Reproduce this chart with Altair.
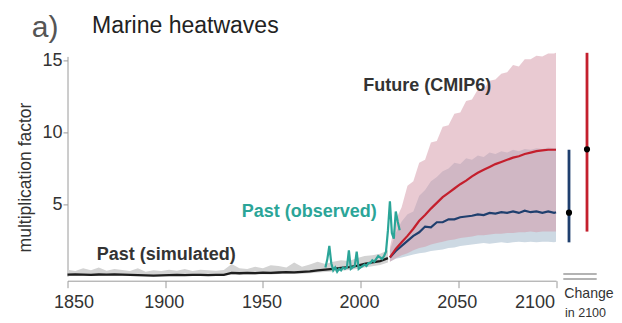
import altair as alt
import pandas as pd

# ---------------- data ----------------
past_years = [1850, 1854, 1858, 1862, 1866, 1870, 1874, 1878, 1882, 1886, 1890,
              1894, 1898, 1902, 1906, 1910, 1914, 1918, 1922, 1926, 1930, 1934,
              1938, 1942, 1946, 1950, 1954, 1958, 1962, 1966, 1970, 1974, 1978,
              1982, 1986, 1990, 1994, 1998, 2002, 2006, 2010, 2014]
sim_median = [0.10, 0.12, 0.10, 0.09, 0.11, 0.10, 0.12, 0.10, 0.09, 0.07, 0.05,
              0.04, 0.05, 0.07, 0.08, 0.07, 0.09, 0.08, 0.07, 0.08, 0.08, 0.22,
              0.20, 0.23, 0.21, 0.24, 0.22, 0.25, 0.27, 0.26, 0.30, 0.33, 0.40,
              0.45, 0.50, 0.58, 0.62, 0.72, 0.85, 0.95, 1.05, 1.25]
sim_low = [0.03, 0.04, 0.03, 0.02, 0.03, 0.03, 0.04, 0.03, 0.02, 0.01, 0.00,
           0.00, 0.00, 0.01, 0.02, 0.01, 0.02, 0.02, 0.01, 0.02, 0.02, 0.12,
           0.10, 0.12, 0.10, 0.13, 0.12, 0.14, 0.15, 0.14, 0.17, 0.20, 0.25,
           0.28, 0.32, 0.38, 0.42, 0.50, 0.60, 0.68, 0.78, 0.95]
sim_high = [0.45, 0.35, 0.55, 0.40, 0.60, 0.38, 0.50, 0.42, 0.35, 0.55, 0.30,
            0.40, 0.35, 0.45, 0.38, 0.50, 0.36, 0.45, 0.40, 0.38, 0.42, 0.85,
            0.55, 0.50, 0.65, 0.55, 0.75, 0.70, 0.60, 0.95, 0.65, 0.80, 1.00,
            0.85, 1.00, 1.10, 1.05, 1.25, 1.40, 1.45, 1.55, 1.80]

obs_years = [1982, 1983, 1984, 1985, 1986, 1987, 1988, 1989, 1990, 1991, 1992,
             1993, 1994, 1995, 1996, 1997, 1998, 1999, 2000, 2001, 2002, 2003,
             2004, 2005, 2006, 2007, 2008, 2009, 2010, 2011, 2012, 2013, 2014,
             2015, 2016, 2017, 2018, 2019, 2020]
obs_values = [0.6, 1.2, 2.1, 0.9, 0.4, 0.6, 0.3, 0.5, 0.4, 0.6, 0.5,
              0.6, 1.8, 0.5, 0.6, 0.7, 1.7, 0.5, 0.6, 0.7, 0.8, 0.7,
              0.9, 0.9, 1.1, 1.0, 1.2, 1.4, 1.3, 1.2, 1.4, 1.7, 3.2,
              5.2, 3.0, 2.6, 4.5, 3.8, 3.2]

fut_years = [2015, 2018, 2021, 2024, 2027, 2030, 2033, 2036, 2039, 2042, 2045,
             2048, 2051, 2054, 2057, 2060, 2063, 2066, 2069, 2072, 2075, 2078,
             2081, 2084, 2087, 2090, 2093, 2096, 2099, 2100]
ssp585_median = [1.3, 1.9, 2.35, 2.8, 3.3, 3.85, 4.25, 4.7, 5.1, 5.5, 5.8,
                 6.1, 6.4, 6.65, 6.95, 7.2, 7.4, 7.6, 7.8, 7.95, 8.1, 8.25,
                 8.35, 8.5, 8.6, 8.7, 8.75, 8.8, 8.8, 8.8]
ssp585_low = [1.0, 1.25, 1.45, 1.6, 1.8, 1.95, 2.05, 2.2, 2.3, 2.4, 2.5,
              2.55, 2.65, 2.7, 2.75, 2.85, 2.85, 2.9, 2.95, 2.95, 3.0, 3.0,
              3.05, 3.05, 3.1, 3.05, 3.1, 3.1, 3.1, 3.1]
ssp585_high = [2.0, 3.9, 4.8, 6.3, 6.6, 7.9, 8.1, 9.3, 9.4, 10.4, 10.5,
               11.3, 11.4, 12.2, 12.3, 13.0, 13.0, 13.6, 13.7, 14.1, 14.2, 14.7,
               14.6, 15.1, 15.1, 15.35, 15.3, 15.5, 15.5, 15.55]
ssp126_median = [1.3, 1.75, 2.1, 2.45, 2.8, 3.05, 3.45, 3.4, 3.75, 3.75, 3.95,
                 3.95, 4.1, 4.15, 4.2, 4.3, 4.25, 4.4, 4.35, 4.45, 4.4, 4.5,
                 4.4, 4.55, 4.45, 4.5, 4.4, 4.5, 4.4, 4.45]
ssp126_low = [1.0, 1.2, 1.3, 1.4, 1.5, 1.6, 1.65, 1.75, 1.8, 1.85, 1.95,
              2.0, 2.1, 2.15, 2.2, 2.25, 2.3, 2.25, 2.3, 2.35, 2.3, 2.35,
              2.4, 2.35, 2.4, 2.35, 2.4, 2.4, 2.35, 2.4]
ssp126_high = [1.8, 3.0, 3.8, 4.3, 4.5, 5.6, 6.0, 6.6, 6.9, 7.3, 7.5,
               7.9, 7.8, 8.2, 8.1, 8.4, 8.3, 8.6, 8.5, 8.7, 8.6, 8.8,
               8.7, 8.85, 8.8, 8.9, 8.85, 8.95, 8.9, 8.9]

change_scenarios = ["SSP1-2.6", "SSP5-8.5"]
change_low = [2.35, 3.1]
change_high = [8.8, 15.55]
change_median = [4.42, 8.83]

x_ticks = [1850, 1900, 1950, 2000, 2050, 2100]
y_ticks = [5, 10, 15]

# ---------------- tables ----------------
past = pd.DataFrame({"year": past_years, "median": sim_median,
                     "low": sim_low, "high": sim_high})
obs = pd.DataFrame({"year": obs_years, "value": obs_values})
fut = pd.DataFrame({"year": fut_years,
                    "r_med": ssp585_median, "r_lo": ssp585_low, "r_hi": ssp585_high,
                    "b_med": ssp126_median, "b_lo": ssp126_low, "b_hi": ssp126_high})
chg = pd.DataFrame({"scen": change_scenarios, "low": change_low,
                    "high": change_high, "mid": change_median})

# ---------------- styling ----------------
W, H = 488.5, 219.7
RED = "#c41f2d"
BLUE = "#1f3f6e"
TEAL = "#2ba598"
AXIS_GREY = "#9a9a9a"
FONT = "Liberation Sans"

xs = alt.Scale(domain=[1850, 2100], nice=False, zero=False)
ys = alt.Scale(domain=[0, 15.3], nice=False, zero=False)

x_axis = alt.Axis(
    values=x_ticks, format="d", title=None, grid=False,
    domainColor=AXIS_GREY, domainWidth=1, tickColor=AXIS_GREY, tickSize=7,
    labelFont=FONT, labelFontSize=18, labelColor="#333333", labelPadding=6,
    offset=4.6, labelFlush=False, labelOverlap=False, labelBound=False,
    labelAlign={"condition": {"test": "datum.value == 2100", "value": "right"},
                "value": "center"},
    labelOffset={"condition": {"test": "datum.value == 1850", "value": 6},
                 "value": -1.5},
)
y_axis = alt.Axis(
    values=y_ticks, title=None, grid=False,
    domainColor=AXIS_GREY, domainWidth=1, tickColor=AXIS_GREY, tickSize=4.5,
    labelFont=FONT, labelFontSize=18, labelColor="#333333", labelPadding=1,
    labelOverlap=False,
)

X = alt.X("year:Q", scale=xs, axis=x_axis)


def Y(field):
    return alt.Y(field, type="quantitative", scale=ys, axis=y_axis)


past_band = alt.Chart(past).mark_area(color="#d3d3d3").encode(
    x=X, y=Y("low"), y2="high:Q")
blue_band = alt.Chart(fut).mark_area(color="#cdd9e3").encode(
    x=X, y=Y("b_lo"), y2="b_hi:Q")
red_band = alt.Chart(fut).mark_area(color="#d495a6", opacity=0.5).encode(
    x=X, y=Y("r_lo"), y2="r_hi:Q")

sim_line = alt.Chart(past).mark_line(color="#1e1e1e", strokeWidth=2.3).encode(
    x=X, y=Y("median"))
blue_line = alt.Chart(fut).mark_line(color=BLUE, strokeWidth=2.2).encode(
    x=X, y=Y("b_med"))
red_line = alt.Chart(fut).mark_line(color=RED, strokeWidth=2.2).encode(
    x=X, y=Y("r_med"))
obs_line = alt.Chart(obs).mark_line(color=TEAL, strokeWidth=2.2).encode(
    x=X, y=Y("value"))


def change_bar(scen, color, xpix):
    base = alt.Chart(chg).transform_filter(alt.datum.scen == scen)
    rule = base.mark_rule(color=color, strokeWidth=2.8).encode(
        x=alt.value(xpix), y=Y("low"), y2="high:Q")
    dot = base.mark_circle(color="black", size=38, opacity=1).encode(
        x=alt.value(xpix), y=Y("mid"))
    return [rule, dot]


def txt(s, x, y, size, weight="normal", color="#222222", font=FONT,
        align="left", baseline="alphabetic", angle=0):
    return alt.Chart(alt.Data(values=[{}])).mark_text(
        text=s, fontSize=size, fontWeight=weight, color=color, font=font,
        align=align, baseline=baseline, angle=angle,
    ).encode(x=alt.value(x), y=alt.value(y))


def hline(x1, x2, y):
    return alt.Chart(alt.Data(values=[{}])).mark_rule(
        color=AXIS_GREY, strokeWidth=1.4).encode(
        x=alt.value(x1), x2=alt.value(x2), y=alt.value(y))


layers = [past_band, blue_band, red_band, sim_line, blue_line, red_line, obs_line]
layers += change_bar("SSP1-2.6", BLUE, 501.5)
layers += change_bar("SSP5-8.5", RED, 519.5)
layers += [
    txt("a)", -35.8, -19.7, 30, color="#555555"),
    txt("Marine heatwaves", 24.5, -23.1, 23, color="#222222"),
    txt("multiplication factor", -41.5, 121.1, 17.5, color="#333333",
        align="center", baseline="middle", angle=270),
    txt("Past (simulated)", 29.2, 203.6, 18, weight="bold", color="#333333"),
    txt("Past (observed)", 174.2, 160.3, 18, weight="bold", color=TEAL),
    txt("Future (CMIP6)", 295.8, 34.3, 18, weight="bold", color="#333333"),
    txt("Change", 496.8, 241.9, 14.1, color="#333333"),
    txt("in 2100", 497.5, 260.6, 12.5, color="#333333"),
    hline(495.8, 529.2, 217.6),
    hline(495.8, 529.2, 222.6),
]

chart = alt.layer(*layers).properties(
    width=W, height=H,
    autosize=alt.AutoSizeParams(type="none"),
    padding={"left": 59.5, "top": 48.4, "right": 58, "bottom": 46.9},
    background="white",
).configure_view(stroke=None)

chart.save("out.html", embed_options={"renderer": "svg", "actions": False})
